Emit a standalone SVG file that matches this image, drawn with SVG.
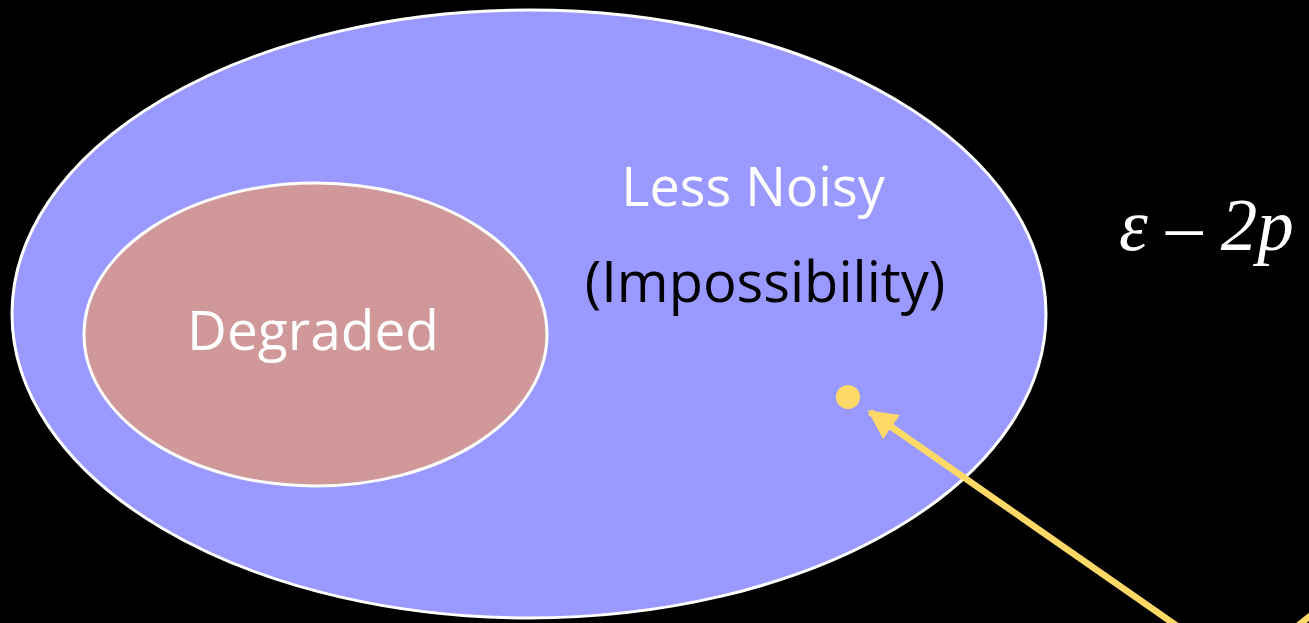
<svg xmlns="http://www.w3.org/2000/svg" width="1309" height="623" viewBox="0 0 1309 623">
<defs>
<style>
.lbl{font-family:"Open Sans","Noto Sans",sans-serif;text-anchor:middle}
.math{font-family:"Liberation Serif","DejaVu Serif",serif;font-style:italic;font-size:73px;fill:#fff}
.conn{stroke:#FFD966;stroke-width:6.5;fill:none}
</style>
<marker id="ah" viewBox="0 0 10 10" refX="9" refY="5" markerWidth="4.5" markerHeight="4.5" orient="auto" markerUnits="strokeWidth">
<path d="M0,0 L10,5 L0,10 Z" fill="#FFD966"/>
</marker>
</defs>
<rect width="1309" height="623" fill="#000"/>
<g id="less-noisy">
<ellipse cx="529" cy="314" rx="517" ry="304" fill="#9999FF" stroke="#fff" stroke-width="3"/>
<text class="lbl" x="753" y="206" font-size="54" fill="#fff">Less Noisy</text>
<text class="lbl" x="765" y="302" font-size="56" fill="#000">(Impossibility)</text>
</g>
<g id="degraded">
<ellipse cx="315.5" cy="334.5" rx="231.5" ry="151.5" fill="#D09898" stroke="#fff" stroke-width="3"/>
<text class="lbl" x="313" y="350" font-size="55" fill="#fff">Degraded</text>
</g>
<g id="point">
<circle cx="848" cy="397" r="12" fill="#FFD966"/>
</g>
<g id="formula">
<text class="math" x="1119" y="250">ε – 2p</text>
</g>
<g id="connectors">
<line class="conn" x1="1180" y1="628" x2="870" y2="412" marker-end="url(#ah)"/>
<line class="conn" x1="1295" y1="628" x2="1315" y2="612"/>
</g>
</svg>
